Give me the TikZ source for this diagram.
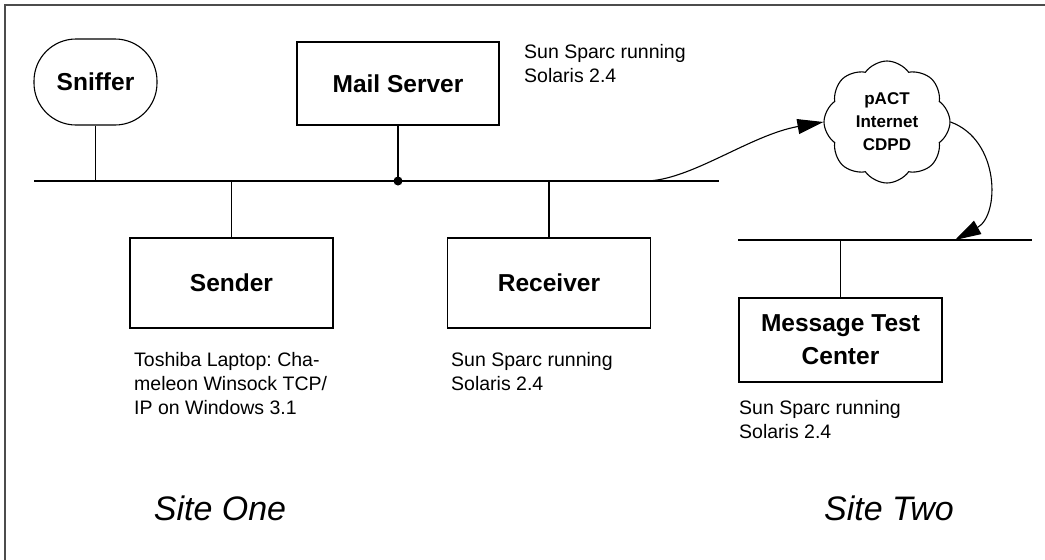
\documentclass[tikz,border=0pt]{standalone}
\usepackage{fontspec}
\setmainfont{Liberation Sans}
\usetikzlibrary{arrows.meta,shapes.symbols}
\newcommand{\boxfont}{\fontsize{24.5}{33}\selectfont\bfseries}
\newcommand{\notefont}{\fontsize{19.5}{24}\selectfont\frenchspacing}
\newcommand{\sitefont}{\fontsize{34}{40}\selectfont\itshape}
\newcommand{\cloudfont}{\fontsize{17}{23}\selectfont\bfseries}
\tikzset{
  box/.style={draw, line width=1.1pt, minimum width=203pt, minimum height=85pt, font=\boxfont, align=center},
  note/.style={anchor=north west, inner sep=0pt, align=left, font=\notefont},
  site/.style={font=\sitefont},
  wire/.style={line width=1.1pt},
  link/.style={line width=1.1pt, -{Triangle[length=26pt,width=15pt]}}
}
\begin{document}
\begin{tikzpicture}[x=1pt,y=-1pt]
\useasboundingbox (0,0) rectangle (1045,560);
\draw[line width=1.6pt,black!70] (5,560) -- (5,5) -- (1045,5);

\node[box,rounded corners=42pt,minimum width=123pt,minimum height=86pt] (sniffer) at (95.5,82) {Sniffer};
\node[box,minimum width=202pt,minimum height=83pt] (mail) at (398,83.5) {Mail Server};
\node[box,minimum height=90pt] (sender) at (231.5,283) {Sender};
\node[box,minimum height=90pt] (receiver) at (549,283) {Receiver};
\node[box,minimum height=84pt] (mtc) at (840.5,340) {Message Test\\Center};
\node[cloud,draw,line width=1.1pt,cloud puffs=8,cloud puff arc=110,aspect=1,inner sep=0pt,minimum width=126pt,minimum height=122pt,font=\cloudfont,align=center] (net) at (887,122) {pACT\\Internet\\CDPD};

\coordinate (bus1w) at (34,181);
\coordinate (bus1e) at (719,181);
\coordinate (bus2w) at (738,240);
\coordinate (bus2e) at (1032,240);
\coordinate (tap1) at (645,181);
\coordinate (tap2) at (955,240);

\draw[wire] (bus1w) -- (bus1e);
\draw[wire] (bus2w) -- (bus2e);
\draw[wire] (sniffer) -- (sniffer |- bus1w);
\draw[wire] (mail) -- (mail |- bus1w);
\fill (mail |- bus1w) circle[radius=4.5pt];
\draw[wire] (sender) -- (sender |- bus1w);
\draw[wire] (receiver) -- (receiver |- bus1w);
\draw[wire] (mtc) -- (mtc |- bus2w);

\draw[link] (tap1) .. controls (690,181) and (750,135) .. (net.west);
\draw[link] (net.east) .. controls (1000,140) and (1000,215) .. (tap2);

\node[note] (mailnote) at (524,44) {Sun Sparc running\\Solaris 2.4};
\node[note] (sendnote) at (134,352) {Toshiba Laptop: Cha-\\meleon Winsock TCP/\\IP on Windows 3.1};
\node[note] (recvnote) at (451,352) {Sun Sparc running\\Solaris 2.4};
\node[note] (mtcnote) at (739,400) {Sun Sparc running\\Solaris 2.4};

\node[site] (siteone) at (220,508) {Site One};
\node[site] (sitetwo) at (889,508) {Site Two};
\end{tikzpicture}
\end{document}
